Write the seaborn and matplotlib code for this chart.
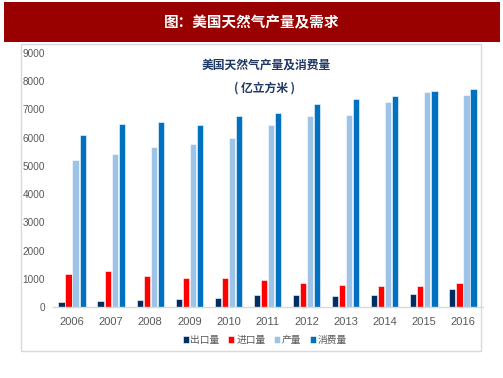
import numpy as np
import pandas as pd
import matplotlib
matplotlib.use("Agg")
import matplotlib.pyplot as plt
from matplotlib.patches import Rectangle
from matplotlib.ticker import MultipleLocator, FixedLocator
import seaborn as sns

years = ["2006", "2007", "2008", "2009", "2010", "2011", "2012", "2013", "2014", "2015", "2016"]
export_vals = [180, 210, 250, 290, 320, 420, 430, 400, 410, 470, 640]
import_vals = [1170, 1280, 1100, 1040, 1040, 960, 860, 790, 750, 750, 840]
production_vals = [5210, 5420, 5670, 5780, 5990, 6440, 6750, 6820, 7280, 7620, 7520]
consumption_vals = [6100, 6490, 6560, 6450, 6770, 6880, 7200, 7360, 7490, 7660, 7740]
series_names = ["出口量", "进口量", "产量", "消费量"]
colors = ["#002D62", "#FF0000", "#9DC3E6", "#0070C0"]

df = pd.DataFrame({
    "year": years * 4,
    "series": sum([[s] * len(years) for s in series_names], []),
    "value": export_vals + import_vals + production_vals + consumption_vals,
})

sns.set_style("white")
plt.rcParams["font.family"] = ["Noto Sans CJK SC", "DejaVu Sans"]

W, H = 503, 378
fig = plt.figure(figsize=(W / 100, H / 100), dpi=100)

# title bar
fig.patches.append(Rectangle((4 / W, (H - 42) / H), 496 / W, 40 / H, transform=fig.transFigure,
                             facecolor="#990000", edgecolor="none", zorder=0))
fig.text(252 / W, (H - 22) / H, "图：美国天然气产量及需求", color="white", fontsize=10.5,
         fontweight="bold", ha="center", va="center")
# chart frame
fig.patches.append(Rectangle((21 / W, (H - 351) / H), 460 / W, 307 / H, transform=fig.transFigure,
                             facecolor="none", edgecolor="#D9D9D9", linewidth=1.0, zorder=0))

ax = fig.add_axes([52.5 / W, (H - 307) / H, 430 / W, 254 / H])
ax.set_facecolor("none")
sns.barplot(data=df, x="year", y="value", hue="series", hue_order=series_names,
            palette=colors, saturation=1, width=0.72, gap=0.12, ax=ax, edgecolor="white",
            linewidth=0.4, legend=True)

ax.set_xlim(-0.5, 10.5)
ax.set_ylim(0, 9000)
ax.yaxis.set_major_locator(MultipleLocator(1000))
ax.set_xlabel("")
ax.set_ylabel("")
for s in ["top", "right", "left"]:
    ax.spines[s].set_visible(False)
ax.spines["bottom"].set_color("#D9D9D9")
ax.spines["bottom"].set_linewidth(1.0)
ax.tick_params(axis="y", length=0, pad=5.5, labelsize=7.2, labelcolor="#595959")
ax.tick_params(axis="x", which="major", length=0, pad=7, labelsize=8, labelcolor="#595959")
ax.xaxis.set_minor_locator(FixedLocator(np.arange(-0.5, 11, 1.0)))
ax.tick_params(axis="x", which="minor", length=4, color="#D9D9D9", width=1.0)
for lbl in ax.get_xticklabels() + ax.get_yticklabels():
    lbl.set_family(["Liberation Sans", "DejaVu Sans"])

ax.text(266 / W, (H - 65) / H, "美国天然气产量及消费量", transform=fig.transFigure, ha="center",
        va="center", fontsize=8.5, fontweight="bold", color="#1F3864")
ax.text(264 / W, (H - 88) / H, "( 亿立方米 )", transform=fig.transFigure, ha="center",
        va="center", fontsize=8.5, fontweight="bold", color="#1F3864")

handles, labels = ax.get_legend_handles_labels()
ax.legend(handles, labels, loc="center", bbox_to_anchor=(265 / W, (H - 340) / H),
          bbox_transform=fig.transFigure, ncol=4, frameon=False, fontsize=7,
          handlelength=0.6, handleheight=0.6, handletextpad=0.2, columnspacing=0.9,
          labelcolor="#595959")

fig.savefig("out.png", dpi=100)
